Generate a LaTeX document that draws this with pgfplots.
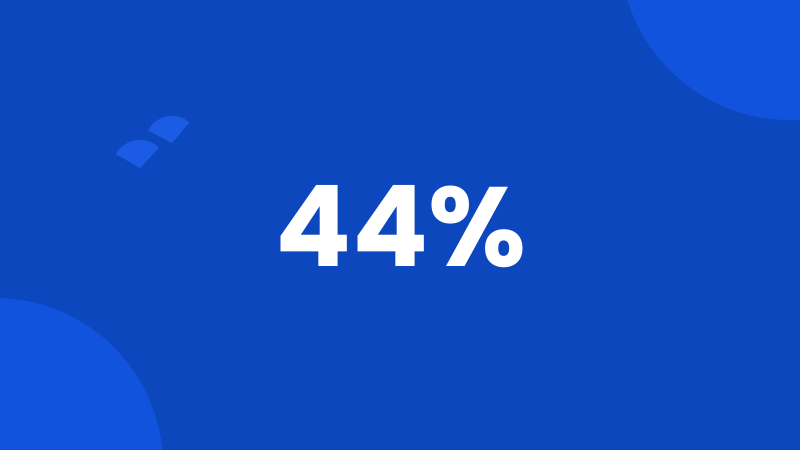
\documentclass[border=0pt]{standalone}
\usepackage{fontspec}
\setmainfont{Poppins}
\usepackage{pgfplots}
\pgfplotsset{compat=1.18}
\definecolor{bgblue}{RGB}{12,71,190}
\definecolor{circblue}{RGB}{17,83,220}
\definecolor{logoblue}{RGB}{28,92,228}
\begin{document}
\begin{tikzpicture}
\begin{axis}[
  scale only axis, width=800bp, height=450bp,
  xmin=0, xmax=800, ymin=0, ymax=450, y dir=reverse,
  hide axis, clip=true,
]
% background and decorative circles
\fill[bgblue] (axis cs:0,0) rectangle (axis cs:800,450);
\fill[circblue] (axis cs:790,-50) circle[radius=170bp];
\fill[circblue] (axis cs:-5,466) circle[radius=168bp];
% logo: two fan segments
\fill[logoblue] (axis cs:172,143) -- +(152:27bp) arc[start angle=152, end angle=50, radius=27bp] -- cycle;
\fill[logoblue] (axis cs:140,168) -- +(150:28bp) arc[start angle=150, end angle=47, radius=28bp] -- cycle;
% the figure
\node[text=white, font=\fontsize{113}{113}\selectfont\bfseries, inner sep=0pt] at (axis cs:401,227) {44\%};
\end{axis}
\end{tikzpicture}
\end{document}
